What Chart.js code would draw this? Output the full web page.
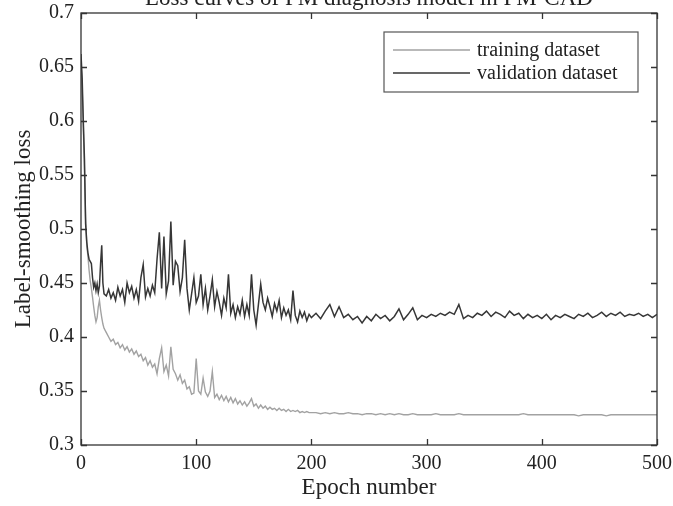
<!DOCTYPE html>
<html>
<head>
<meta charset="utf-8">
<script src="https://cdn.jsdelivr.net/npm/chart.js@4.4.1/dist/chart.umd.min.js"></script>
<style>
  html,body{margin:0;padding:0;background:#fff;}
  #wrap{width:673px;height:506px;}
</style>
</head>
<body>
<div id="wrap"><canvas id="lossChart" width="673" height="506"></canvas></div>
<script>
// ---- data ----
const chartTitle="Loss curves of PM diagnosis model in PM-CAD";
const xTitle="Epoch number", yTitle="Label-smoothing loss";
const seriesNames=["training dataset","validation dataset"];
const xTicks=[0,100,200,300,400,500];
const yTicks=[0.3,0.35,0.4,0.45,0.5,0.55,0.6,0.65,0.7];

const epochs=[
  0,1,2,3,4,5,6,7,8,9,10,11,12,13,14,15,16,17,18,19,20,
  22,24,26,28,30,32,34,36,38,40,42,44,46,48,50,52,54,56,58,60,
  62,64,66,68,70,72,74,76,78,80,82,84,86,88,90,92,94,96,98,100,
  102,104,106,108,110,112,114,116,118,120,122,124,126,128,130,132,134,136,138,140,
  142,144,146,148,150,152,154,156,158,160,162,164,166,168,170,172,174,176,178,180,
  182,184,186,188,190,192,194,196,198,200,
  204,208,212,216,220,224,228,232,236,240,244,248,252,256,260,264,268,272,276,280,
  284,288,292,296,300,304,308,312,316,320,324,328,332,336,340,344,348,352,356,360,
  364,368,372,376,380,384,388,392,396,400,404,408,412,416,420,424,428,432,436,440,
  444,448,452,456,460,464,468,472,476,480,484,488,492,496,500
];

const trainLoss=[
  0.655,0.630,0.595,0.555,0.510,0.485,0.475,0.462,0.452,0.445,0.437,0.428,0.420,0.414,0.418,0.428,0.434,0.425,0.418,0.412,0.408,
  0.404,0.400,0.396,0.398,0.393,0.395,0.390,0.393,0.388,0.391,0.386,0.389,0.384,0.387,0.382,0.384,0.378,0.381,0.374,0.378,
  0.372,0.375,0.366,0.380,0.390,0.368,0.374,0.364,0.391,0.370,0.366,0.360,0.365,0.357,0.360,0.352,0.354,0.347,0.348,0.380,
  0.350,0.347,0.362,0.349,0.345,0.350,0.368,0.344,0.347,0.342,0.346,0.341,0.345,0.340,0.344,0.339,0.343,0.338,0.341,0.337,
  0.340,0.336,0.339,0.343,0.336,0.338,0.334,0.337,0.334,0.336,0.333,0.335,0.333,0.334,0.332,0.334,0.332,0.333,0.331,0.333,
  0.331,0.332,0.331,0.332,0.330,0.331,0.330,0.331,0.330,0.330,
  0.330,0.329,0.330,0.329,0.330,0.329,0.329,0.330,0.329,0.329,0.328,0.329,0.329,0.328,0.329,0.328,0.329,0.328,0.329,0.328,
  0.328,0.329,0.328,0.328,0.328,0.328,0.329,0.328,0.328,0.328,0.328,0.329,0.328,0.328,0.328,0.328,0.328,0.328,0.328,0.328,
  0.328,0.328,0.328,0.328,0.328,0.329,0.328,0.328,0.328,0.328,0.328,0.328,0.328,0.328,0.328,0.328,0.328,0.327,0.328,0.328,
  0.328,0.328,0.328,0.327,0.328,0.328,0.328,0.328,0.328,0.328,0.328,0.328,0.328,0.328,0.328
];

const valLoss=[
  0.662,0.640,0.600,0.565,0.505,0.488,0.478,0.472,0.470,0.468,0.455,0.446,0.450,0.443,0.449,0.441,0.447,0.468,0.485,0.450,0.440,
  0.438,0.444,0.436,0.441,0.434,0.446,0.438,0.444,0.432,0.450,0.441,0.447,0.436,0.444,0.433,0.455,0.467,0.437,0.445,0.438,
  0.448,0.441,0.472,0.497,0.445,0.493,0.440,0.452,0.507,0.448,0.470,0.466,0.442,0.455,0.490,0.445,0.425,0.440,0.455,0.432,
  0.438,0.458,0.430,0.445,0.425,0.438,0.453,0.428,0.442,0.432,0.420,0.436,0.427,0.458,0.422,0.430,0.418,0.428,0.421,0.434,
  0.419,0.430,0.420,0.458,0.425,0.411,0.430,0.449,0.432,0.425,0.436,0.428,0.419,0.431,0.424,0.434,0.418,0.427,0.420,0.425,
  0.416,0.443,0.420,0.414,0.424,0.418,0.423,0.415,0.421,0.418,
  0.422,0.417,0.424,0.430,0.419,0.428,0.418,0.421,0.416,0.419,0.413,0.419,0.415,0.421,0.417,0.420,0.415,0.419,0.426,0.416,
  0.421,0.427,0.416,0.420,0.418,0.421,0.419,0.422,0.420,0.423,0.421,0.430,0.417,0.420,0.418,0.422,0.420,0.424,0.419,0.423,
  0.421,0.418,0.424,0.420,0.422,0.417,0.421,0.418,0.420,0.417,0.421,0.416,0.420,0.418,0.421,0.419,0.417,0.421,0.419,0.422,
  0.418,0.420,0.423,0.419,0.422,0.420,0.423,0.419,0.421,0.420,0.422,0.419,0.421,0.418,0.421
];

const seriesColors=["#a2a2a2","#363636"];

// ---- chart ----
const serif='"Liberation Serif","Times New Roman",serif';
const textColor="#222";

// axis box, inward ticks, cut-off title, boxed legend (matlab look)
const matlabFrame={
  id:"matlabFrame",
  afterDraw(chart){
    const {ctx,chartArea:a,scales:{x,y}}=chart;
    ctx.save();
    ctx.strokeStyle="#333"; ctx.lineWidth=1.3;
    ctx.strokeRect(a.left,a.top,a.right-a.left,a.bottom-a.top);
    ctx.beginPath();
    x.ticks.forEach(t=>{
      const px=Math.round(x.getPixelForValue(t.value))+0.5;
      ctx.moveTo(px,a.bottom); ctx.lineTo(px,a.bottom-6);
      ctx.moveTo(px,a.top); ctx.lineTo(px,a.top+6);
    });
    y.ticks.forEach(t=>{
      const py=Math.round(y.getPixelForValue(t.value))+0.5;
      ctx.moveTo(a.left,py); ctx.lineTo(a.left+6,py);
      ctx.moveTo(a.right,py); ctx.lineTo(a.right-6,py);
    });
    ctx.stroke();

    ctx.fillStyle=textColor; ctx.font="23px "+serif;
    ctx.textAlign="center"; ctx.textBaseline="alphabetic";
    ctx.fillText(chartTitle,(a.left+a.right)/2,5);

    // legend box
    const bw=254, bh=60, bx=a.right-19-bw, by=a.top+19;
    ctx.fillStyle="#fff"; ctx.fillRect(bx,by,bw,bh);
    ctx.strokeStyle="#555"; ctx.lineWidth=1.2; ctx.strokeRect(bx,by,bw,bh);
    ctx.font="20px "+serif; ctx.textAlign="left"; ctx.textBaseline="middle";
    chart.data.datasets.forEach((ds,i)=>{
      const ly=by+18+i*23;
      ctx.strokeStyle=ds.borderColor; ctx.lineWidth=1.6;
      ctx.beginPath(); ctx.moveTo(bx+9,ly); ctx.lineTo(bx+86,ly); ctx.stroke();
      ctx.fillStyle=textColor; ctx.fillText(ds.label,bx+93,ly+1);
    });
    ctx.restore();
  }
};

const ctx=document.getElementById("lossChart").getContext("2d");
new Chart(ctx,{
  type:"line",
  data:{
    datasets:[
      {label:seriesNames[0],data:epochs.map((e,i)=>({x:e,y:trainLoss[i]})),borderColor:seriesColors[0],borderWidth:1.4,pointRadius:0,tension:0,order:1},
      {label:seriesNames[1],data:epochs.map((e,i)=>({x:e,y:valLoss[i]})),borderColor:seriesColors[1],borderWidth:1.5,pointRadius:0,tension:0,order:0}
    ]
  },
  options:{
    responsive:false, animation:false,
    layout:{padding:{left:0,right:16,top:13,bottom:0}},
    plugins:{legend:{display:false},tooltip:{enabled:false},title:{display:false}},
    scales:{
      x:{
        type:"linear", min:0, max:500,
        afterBuildTicks:s=>{ s.ticks=xTicks.map(v=>({value:v})); },
        afterFit:s=>{ s.height=61; s.paddingLeft=0; s.paddingRight=0; },
        grid:{display:false,drawTicks:false}, border:{display:false},
        ticks:{padding:7,color:textColor,font:{family:serif,size:20},maxRotation:0},
        title:{display:true,text:xTitle,color:textColor,font:{family:serif,size:23},padding:{top:0,bottom:4}}
      },
      y:{
        type:"linear", min:0.3, max:0.7,
        afterBuildTicks:s=>{ s.ticks=yTicks.map(v=>({value:v})); },
        afterFit:s=>{ s.width=81; s.paddingTop=0; s.paddingBottom=0; },
        grid:{display:false,drawTicks:false}, border:{display:false},
        ticks:{padding:7,color:textColor,font:{family:serif,size:20},callback:v=>String(+v.toFixed(2))},
        title:{display:true,text:yTitle,color:textColor,font:{family:serif,size:23},padding:{top:10,bottom:0}}
      }
    }
  },
  plugins:[matlabFrame]
});
</script>
</body>
</html>
